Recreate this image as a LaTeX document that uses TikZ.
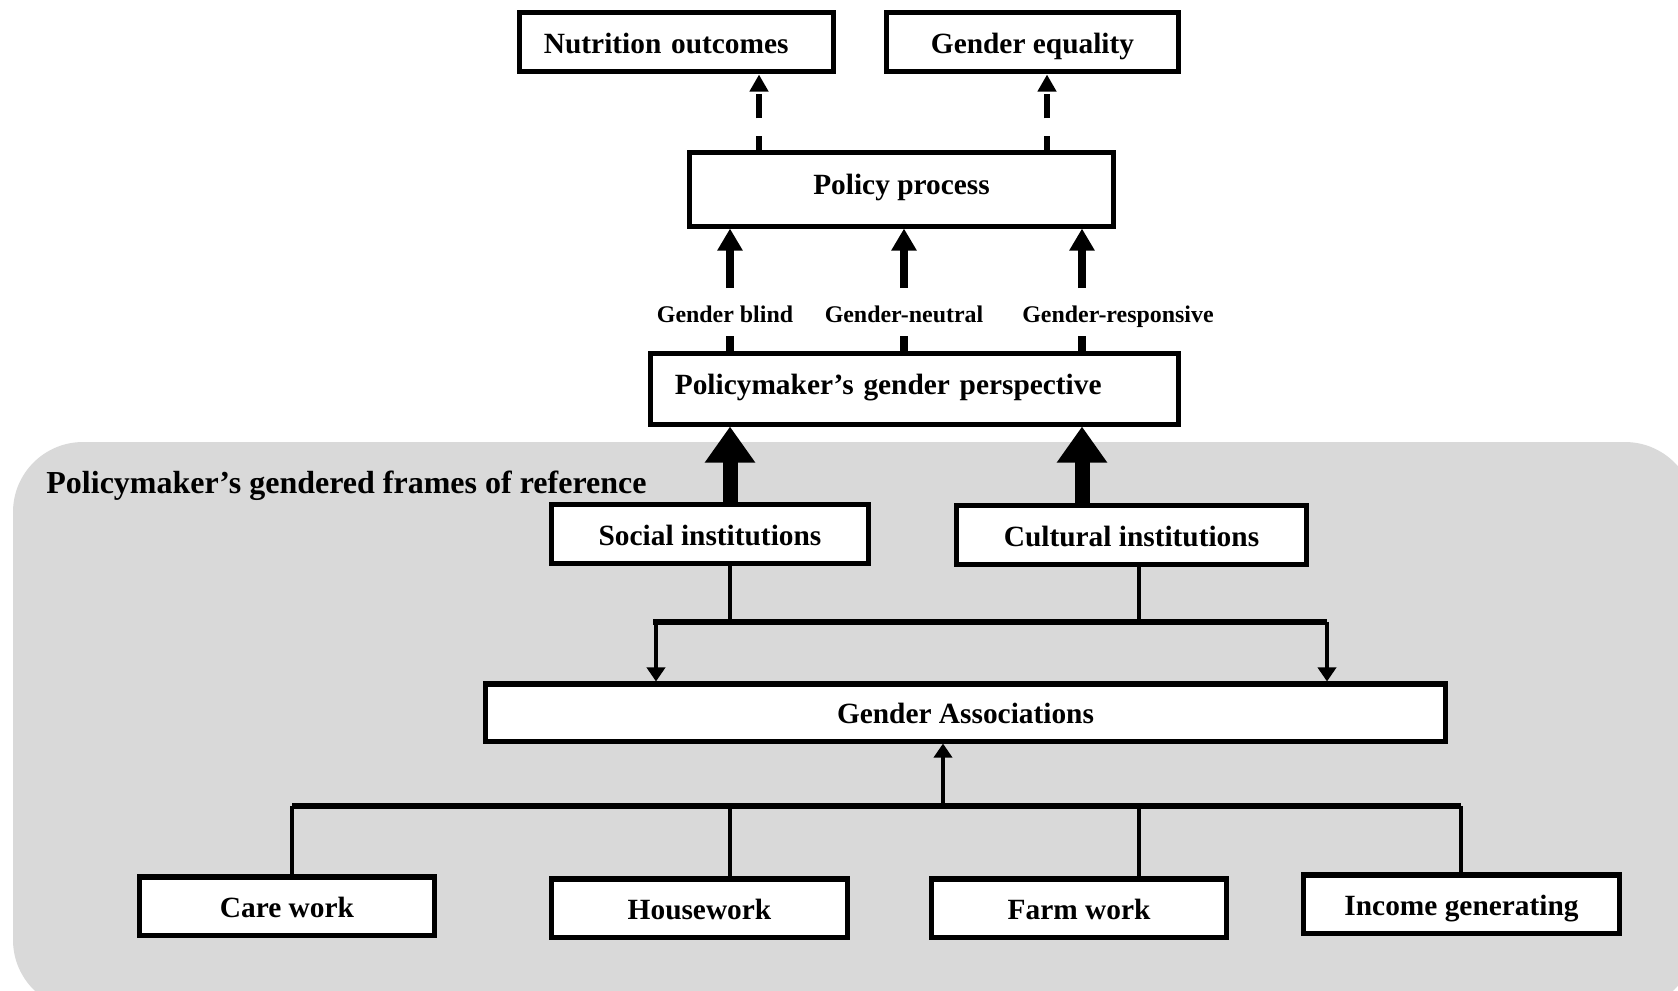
\documentclass[tikz,border=0pt]{standalone}
\usepackage{fontspec}
\setmainfont{Liberation Serif}
\usetikzlibrary{positioning, arrows.meta, calc}
\definecolor{framegray}{RGB}{217,217,217}

\begin{document}
\begin{tikzpicture}[
    x=0.01cm, y=-0.01cm,
    every node/.style={font=\fontsize{8.35}{10}\selectfont\bfseries},
    box/.style={
        rectangle,
        draw=black,
        fill=white,
        minimum height=0.58cm,
        text height=6.4pt,
        text depth=0pt,
        align=center,
        inner sep=0pt,
        line width=0.05cm
    },
    lbl/.style={
        font=\fontsize{6.8}{8}\selectfont\bfseries,
        text height=4.7pt,
        text depth=0pt
    },
    heading/.style={
        anchor=west,
        font=\fontsize{9.1}{11}\selectfont\bfseries,
        text height=6.6pt,
        text depth=0pt
    },
    dasharrow/.style={
        -{Triangle[length=0.17cm, width=0.18cm]},
        line width=0.06cm,
        dash pattern=on 0.14cm off 0.18cm on 0.24cm off 0.2cm,
        shorten >=0.01cm
    },
    thickarrow/.style={
        -{Triangle[length=0.22cm, width=0.24cm]},
        line width=0.08cm
    },
    bigarrow/.style={
        -{Triangle[length=0.36cm, width=0.48cm]},
        line width=0.15cm
    },
    thinarrow/.style={
        -{Triangle[length=0.14cm, width=0.18cm]},
        line width=0.045cm
    },
    stub/.style={line width=0.08cm},
    link/.style={line width=0.045cm},
    bar/.style={line width=0.055cm}
]

\clip (0,0) rectangle (1678,990);

% Gendered frames of reference
\fill[framegray, rounded corners=0.7cm] (13,442) rectangle (1695,1010);
\node[heading] (frame) at (34,482) {Policymaker's gendered frames of reference};

% Outcomes
\node[box, text width=2.65cm, align=left, inner xsep=0.24cm] (nutr) at (676.5,42) {Nutrition outcomes};
\node[box, minimum width=2.91cm] (equal) at (1032.5,42) {Gender equality};

% Policy
\node[box, minimum width=4.23cm, minimum height=0.73cm, text depth=3.4pt] (policy) at (901.5,189.5) {Policy process};
\node[box, minimum height=0.70cm, text depth=3pt, text width=4.79cm, align=left, inner xsep=0.24cm] (persp) at (914.5,389) {Policymaker's gender perspective};

% Perspectives
\node[lbl] (gblind) at (725,314) {Gender blind};
\node[lbl] (gneutral) at (904,314) {Gender-neutral};
\node[lbl] (gresp) at (1118,314) {Gender-responsive};

% Institutions
\node[box, minimum width=3.16cm] (social) at (710,534) {Social institutions};
\node[box, minimum width=3.49cm] (cultural) at (1131.5,535) {Cultural institutions};
\node[box, minimum width=9.59cm, minimum height=0.57cm] (assoc) at (965.5,712.5) {Gender Associations};

% Work
\node[box, minimum width=2.94cm] (care) at (287,906) {Care work};
\node[box, minimum width=2.95cm] (house) at (699.5,908) {Housework};
\node[box, minimum width=2.94cm] (farm) at (1079,908) {Farm work};
\node[box, minimum width=3.15cm] (income) at (1461.5,904) {Income generating};

% columns and rows for connectors
\coordinate (dl) at (759,0);
\coordinate (dr) at (1047,0);
\coordinate (c1) at (730,0);
\coordinate (c2) at (904,0);
\coordinate (c3) at (1082,0);
\coordinate (c4) at (1139,0);
\coordinate (c5) at (656,0);
\coordinate (c6) at (1327,0);
\coordinate (c7) at (943,0);
\coordinate (c8) at (292,0);
\coordinate (c9) at (1461,0);
\coordinate (r1) at (0,288);
\coordinate (r2) at (0,336);
\coordinate (r3) at (0,622);
\coordinate (r4) at (0,806);

% Policy process to outcomes
\draw[dasharrow] (policy.north -| dl) -- (dl |- nutr.south);
\draw[dasharrow] (policy.north -| dr) -- (dr |- equal.south);

% Perspective to policy process
\draw[thickarrow] (c1 |- r1) -- (c1 |- policy.south);
\draw[thickarrow] (c2 |- r1) -- (c2 |- policy.south);
\draw[thickarrow] (c3 |- r1) -- (c3 |- policy.south);
\draw[stub] (persp.north -| c1) -- (c1 |- r2);
\draw[stub] (persp.north -| c2) -- (c2 |- r2);
\draw[stub] (persp.north -| c3) -- (c3 |- r2);

% Institutions to perspective
\draw[bigarrow] (social.north -| c1) -- (c1 |- persp.south);
\draw[bigarrow] (cultural.north -| c3) -- (c3 |- persp.south);

% Institutions to associations
\draw[link] (social.south -| c1) -- (c1 |- r3);
\draw[link] (cultural.south -| c4) -- (c4 |- r3);
\draw[bar] ([xshift=-0.03cm]c5 |- r3) -- (c6 |- r3);
\draw[thinarrow] (c5 |- r3) -- (c5 |- assoc.north);
\draw[thinarrow] (c6 |- r3) -- (c6 |- assoc.north);

% Work to associations
\draw[thinarrow] (c7 |- r4) -- (c7 |- assoc.south);
\draw[bar] (c8 |- r4) -- (c9 |- r4);
\draw[link] (c8 |- r4) -- (c8 |- care.north);
\draw[link] (c1 |- r4) -- (c1 |- house.north);
\draw[link] (c4 |- r4) -- (c4 |- farm.north);
\draw[link] (c9 |- r4) -- (c9 |- income.north);

\end{tikzpicture}
\end{document}
